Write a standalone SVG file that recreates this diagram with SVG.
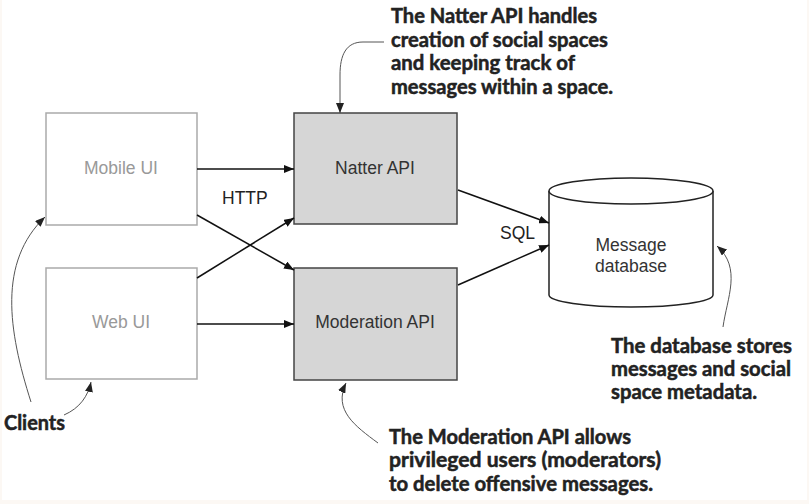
<svg xmlns="http://www.w3.org/2000/svg" width="809" height="504" viewBox="0 0 809 504">
<style>
.client{fill:#fff;stroke:#aaa;stroke-width:1.5}
.api{fill:#d6d6d6;stroke:#444;stroke-width:1.5}
.db{fill:#fff;stroke:#222;stroke-width:1.5}
.lbl{font-family:"Liberation Sans",Arial,sans-serif;font-size:17.5px;text-anchor:middle;fill:#333}
.glbl{font-family:"Liberation Sans",Arial,sans-serif;font-size:17.5px;text-anchor:middle;fill:#999}
.plain{font-family:"Liberation Sans",Arial,sans-serif;font-size:17.5px;fill:#222}
.note{font-family:Lato,"Open Sans",sans-serif;font-weight:bold;font-size:20px;fill:#222;stroke:#222;stroke-width:0.5}
.conn{fill:none;stroke:#111;stroke-width:1.5}
.ann{fill:none;stroke:#555;stroke-width:1}
</style>
<defs>
<marker id="ah" viewBox="0 0 10 8" refX="10" refY="4" markerWidth="10" markerHeight="8" markerUnits="userSpaceOnUse" orient="auto">
<path d="M0,0 L10,4 L0,8 z" fill="#111"/>
</marker>
<marker id="ah2" viewBox="0 0 10 8" refX="10" refY="4" markerWidth="10" markerHeight="8" markerUnits="userSpaceOnUse" orient="auto">
<path d="M0,0 L10,4 L0,8 z" fill="#222"/>
</marker>
</defs>
<rect x="0" y="0" width="809" height="504" fill="#fcf8f4"/>
<rect x="2" y="0" width="805" height="500" fill="#fff"/>

<g id="mobile-ui">
<rect class="client" x="46" y="113" width="151" height="112"/>
<text class="glbl" x="121" y="174">Mobile UI</text>
</g>
<g id="web-ui">
<rect class="client" x="46" y="268" width="151" height="111"/>
<text class="glbl" x="121" y="328">Web UI</text>
</g>
<g id="natter-api">
<rect class="api" x="294" y="113" width="163" height="111"/>
<text class="lbl" x="375" y="174">Natter API</text>
</g>
<g id="moderation-api">
<rect class="api" x="294" y="268" width="163" height="112"/>
<text class="lbl" x="375" y="328">Moderation API</text>
</g>
<g id="message-db">
<path class="db" d="M549,191 L549,295 A82,12 0 0 0 713,295 L713,191"/>
<ellipse class="db" cx="631" cy="191" rx="82" ry="13"/>
<text class="lbl" x="631" y="251">Message</text>
<text class="lbl" x="631" y="272">database</text>
</g>

<g id="connectors">
<line class="conn" x1="197" y1="169" x2="294" y2="169" marker-end="url(#ah)"/>
<line class="conn" x1="197" y1="324" x2="294" y2="324" marker-end="url(#ah)"/>
<line class="conn" x1="197" y1="215" x2="294" y2="270" marker-end="url(#ah)"/>
<line class="conn" x1="197" y1="278" x2="294" y2="218" marker-end="url(#ah)"/>
<line class="conn" x1="458" y1="190" x2="549" y2="223" marker-end="url(#ah)"/>
<line class="conn" x1="458" y1="285" x2="549" y2="245" marker-end="url(#ah)"/>
<text class="plain" x="222" y="204">HTTP</text>
<text class="plain" x="500" y="239">SQL</text>
</g>

<g id="annotations">
<path class="ann" d="M384,42 L363,42 C346,42 340,55 340,75 L340,113" marker-end="url(#ah2)"/>
<path class="ann" d="M31,402 C8,330 -2,262 45,217" marker-end="url(#ah2)"/>
<path class="ann" d="M64,415 C80,408 88,396 91,382" marker-end="url(#ah2)"/>
<path class="ann" d="M723,327 C727,298 742,268 717,246" marker-end="url(#ah2)"/>
<path class="ann" d="M378,443 C355,426 333,410 346,383" marker-end="url(#ah2)"/>

<text class="note" x="391" y="23" textLength="206" lengthAdjust="spacingAndGlyphs">The Natter API handles</text>
<text class="note" x="391" y="47" textLength="217" lengthAdjust="spacingAndGlyphs">creation of social spaces</text>
<text class="note" x="391" y="70" textLength="184" lengthAdjust="spacingAndGlyphs">and keeping track of</text>
<text class="note" x="391" y="94" textLength="222" lengthAdjust="spacingAndGlyphs">messages within a space.</text>

<text class="note" x="611" y="353" textLength="181" lengthAdjust="spacingAndGlyphs">The database stores</text>
<text class="note" x="611" y="376" textLength="180" lengthAdjust="spacingAndGlyphs">messages and social</text>
<text class="note" x="611" y="399" textLength="146" lengthAdjust="spacingAndGlyphs">space metadata.</text>

<text class="note" x="389" y="444" textLength="242" lengthAdjust="spacingAndGlyphs">The Moderation API allows</text>
<text class="note" x="389" y="467" textLength="272" lengthAdjust="spacingAndGlyphs">privileged users (moderators)</text>
<text class="note" x="389" y="491" textLength="264" lengthAdjust="spacingAndGlyphs">to delete offensive messages.</text>

<text class="note" x="4" y="430" textLength="61" lengthAdjust="spacingAndGlyphs">Clients</text>
</g>
</svg>
